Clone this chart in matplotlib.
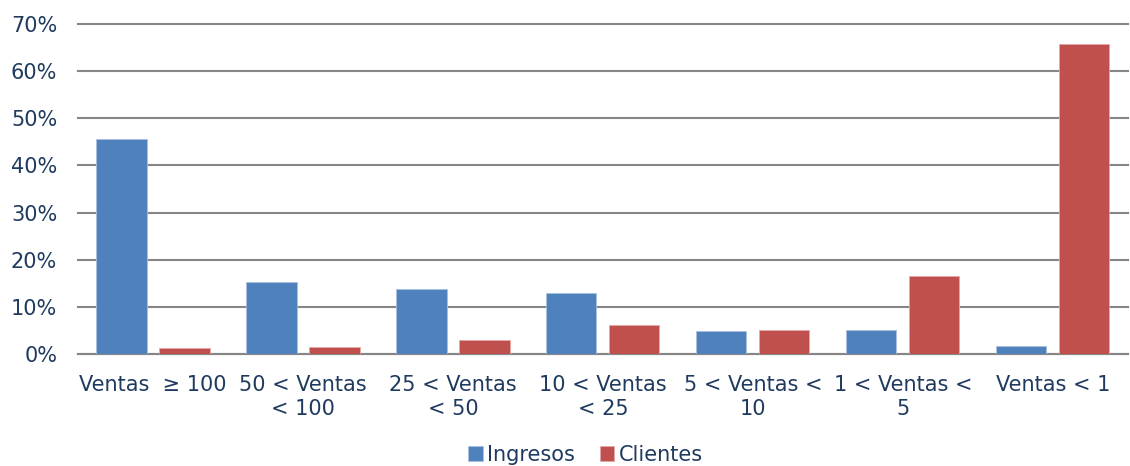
import numpy as np
import matplotlib
matplotlib.use("Agg")
import matplotlib.pyplot as plt
from matplotlib.ticker import PercentFormatter

categories = ["Ventas  \u2265 100", "50 < Ventas\n< 100", "25 < Ventas\n< 50",
              "10 < Ventas\n< 25", "5 < Ventas <\n10", "1 < Ventas <\n5", "Ventas < 1"]
ingresos = [45.7, 15.2, 13.9, 12.9, 5.0, 5.1, 1.8]
clientes = [1.3, 1.6, 3.0, 6.1, 5.2, 16.6, 65.8]

txt = "#1F3A5F"
plt.rcParams["font.family"] = "DejaVu Sans"

fig = plt.figure(figsize=(11.3, 4.66), dpi=100)
ax = fig.add_axes([0.069, 0.240, 0.929, 0.7085])

x = np.arange(len(categories))
w = 0.335
ax.bar(x - 0.21, ingresos, w, color="#4F81BD", edgecolor="#A9C0E0", linewidth=0.6,
       label="Ingresos", zorder=3)
ax.bar(x + 0.21, clientes, w, color="#C0504D", edgecolor="#E2A9A8", linewidth=0.6,
       label="Clientes", zorder=3)

ax.set_xlim(-0.5, len(categories) - 0.5)
ax.set_ylim(0, 70)
ax.set_yticks(range(0, 71, 10))
ax.yaxis.set_major_formatter(PercentFormatter(decimals=0))
ax.grid(axis="y", color="#868686", linewidth=1.5, zorder=0)
for gl in ax.get_ygridlines():
    gl.set_clip_on(False)
for s in ["top", "right", "left"]:
    ax.spines[s].set_visible(False)
ax.spines["bottom"].set_color("#868686")
ax.spines["bottom"].set_linewidth(1.5)
ax.tick_params(axis="both", length=0, labelsize=15, labelcolor=txt)
ax.tick_params(axis="y", pad=15)
ax.tick_params(axis="x", pad=15)
ax.set_xticks(x)
ax.set_xticklabels(categories, linespacing=1.25)

fig.legend(loc="lower center", bbox_to_anchor=(0.518, -0.038), ncol=2, frameon=False,
           fontsize=15, handlelength=0.7, handleheight=0.7, handletextpad=0.2,
           columnspacing=1.2, labelcolor=txt)

fig.savefig("out.png", dpi=100)
